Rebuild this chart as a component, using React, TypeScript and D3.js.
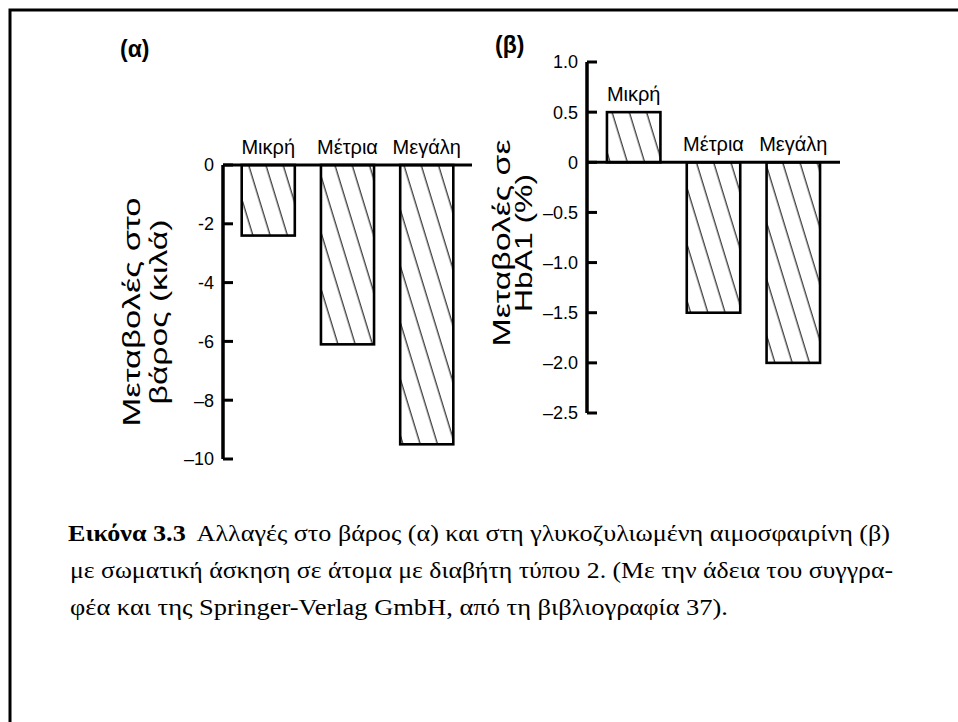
import * as React from "react";
import * as d3 from "d3";

const CATEGORIES = ["Μικρή", "Μέτρια", "Μεγάλη"];

// (α) weight change, kg
const WEIGHT_CHANGE = [-2.4, -6.1, -9.5];
const WEIGHT_TICKS = [0, -2, -4, -6, -8, -10];
const WEIGHT_TICK_LABELS = ["0", "-2", "-4", "-6", "–8", "–10"];

// (β) HbA1 change, %
const HBA_CHANGE = [0.5, -1.5, -2.0];
const HBA_TICKS = [1.0, 0.5, 0, -0.5, -1.0, -1.5, -2.0, -2.5];
const HBA_TICK_LABELS = ["1.0", "0.5", "0", "–0.5", "–1.0", "–1.5", "–2.0", "–2.5"];

const CAPTION_BOLD = "Εικόνα 3.3";
const CAPTION_LINES = [
  "Αλλαγές στο βάρος (α) και στη γλυκοζυλιωμένη αιμοσφαιρίνη (β)",
  "με σωματική άσκηση σε άτομα με διαβήτη τύπου 2. (Με την άδεια του συγγρα-",
  "φέα και της Springer-Verlag GmbH, από τη βιβλιογραφία 37).",
];

const SANS = "'Liberation Sans', Arial, sans-serif";
const SERIF = "'Liberation Serif', 'Times New Roman', serif";

interface PanelProps {
  tag: string;
  tagX: number;
  tagY: number;
  values: number[];
  domain: [number, number];
  yRange: [number, number];
  xRange: [number, number];
  paddingOuter: number;
  ticks: number[];
  tickLabels: string[];
  title: string[];
  titleX: number[];
  titleLen: number[];
  titleY: number;
}

function Panel(p: PanelProps) {
  const y = d3.scaleLinear().domain(p.domain).range(p.yRange);
  const x = d3
    .scaleBand<string>()
    .domain(CATEGORIES)
    .range(p.xRange)
    .paddingInner(0.33)
    .paddingOuter(p.paddingOuter);
  const axisX = p.xRange[0];
  const zero = y(0);

  return (
    <g>
      <text x={p.tagX} y={p.tagY} fontFamily={SANS} fontWeight="bold" fontSize={23}>
        {p.tag}
      </text>

      {p.values.map((v, i) => {
        const c = CATEGORIES[i];
        const top = Math.min(y(v), zero);
        const h = Math.abs(y(v) - zero);
        const bx = x(c) ?? 0;
        return (
          <g key={c}>
            <rect
              x={bx}
              y={top}
              width={x.bandwidth()}
              height={h}
              fill="url(#hatch)"
              stroke="#000"
              strokeWidth={2.6}
            />
            <text
              x={bx + x.bandwidth() / 2}
              y={top - 11}
              textAnchor="middle"
              fontFamily={SANS}
              fontSize={20}
            >
              {c}
            </text>
          </g>
        );
      })}

      {/* zero line */}
      <line x1={axisX} x2={p.xRange[1]} y1={zero} y2={zero} stroke="#000" strokeWidth={3} />

      {/* y axis */}
      <line
        x1={axisX}
        x2={axisX}
        y1={y(p.domain[0])}
        y2={y(p.domain[1])}
        stroke="#000"
        strokeWidth={3.5}
      />
      {p.ticks.map((t, i) => (
        <g key={t}>
          <line x1={axisX} x2={axisX + 10} y1={y(t)} y2={y(t)} stroke="#000" strokeWidth={3} />
          <text
            x={axisX - 9}
            y={y(t)}
            dy="0.36em"
            textAnchor="end"
            fontFamily={SANS}
            fontSize={18}
          >
            {p.tickLabels[i]}
          </text>
        </g>
      ))}

      {p.title.map((t, i) => (
        <text
          key={t}
          transform={`translate(${p.titleX[i]},${p.titleY}) rotate(-90)`}
          textAnchor="middle"
          fontFamily={SANS}
          fontSize={24}
          textLength={p.titleLen[i]}
          lengthAdjust="spacingAndGlyphs"
        >
          {t}
        </text>
      ))}
    </g>
  );
}

export default function App() {
  const width = 958;
  const height = 722;

  return (
    <div style={{ position: "absolute", left: 0, top: 0 }}>
      <svg width={width} height={height} style={{ display: "block", background: "#fff" }}>
        <defs>
          <pattern
            id="hatch"
            patternUnits="userSpaceOnUse"
            width={16.5}
            height={16.5}
            patternTransform="rotate(-17)"
          >
            <rect width={16.5} height={16.5} fill="#fff" />
            <line x1={8} y1={-1} x2={8} y2={17.5} stroke="#111" strokeWidth={1.1} />
          </pattern>
        </defs>

        {/* frame: only top and left edges are visible */}
        <path d={`M10,${height} V10 H${width}`} fill="none" stroke="#000" strokeWidth={3} />

        <Panel
          tag="(α)"
          tagX={120}
          tagY={57}
          values={WEIGHT_CHANGE}
          domain={[-10, 0]}
          yRange={[459, 165]}
          xRange={[223, 472]}
          paddingOuter={0.236}
          ticks={WEIGHT_TICKS}
          tickLabels={WEIGHT_TICK_LABELS}
          title={["Μεταβολές στο", "βάρος (κιλά)"]}
          titleX={[140, 167]}
          titleLen={[229, 185]}
          titleY={312}
        />

        <Panel
          tag="(β)"
          tagX={495}
          tagY={53}
          values={HBA_CHANGE}
          domain={[-2.5, 1.0]}
          yRange={[413, 62]}
          xRange={[587, 840]}
          paddingOuter={0.25}
          ticks={HBA_TICKS}
          tickLabels={HBA_TICK_LABELS}
          title={["Μεταβολές σε", "HbA1 (%)"]}
          titleX={[510, 532]}
          titleLen={[207, 138]}
          titleY={243}
        />

        <g fontFamily={SERIF} fontSize={24} fill="#000">
          <text x={68} y={541} textLength={822} lengthAdjust="spacingAndGlyphs">
            <tspan fontWeight="bold">{CAPTION_BOLD}</tspan>
            <tspan dx={10}>{CAPTION_LINES[0]}</tspan>
          </text>
          <text x={70} y={578} textLength={823} lengthAdjust="spacingAndGlyphs">
            {CAPTION_LINES[1]}
          </text>
          <text x={70} y={615} textLength={658} lengthAdjust="spacingAndGlyphs">
            {CAPTION_LINES[2]}
          </text>
        </g>
      </svg>
    </div>
  );
}
